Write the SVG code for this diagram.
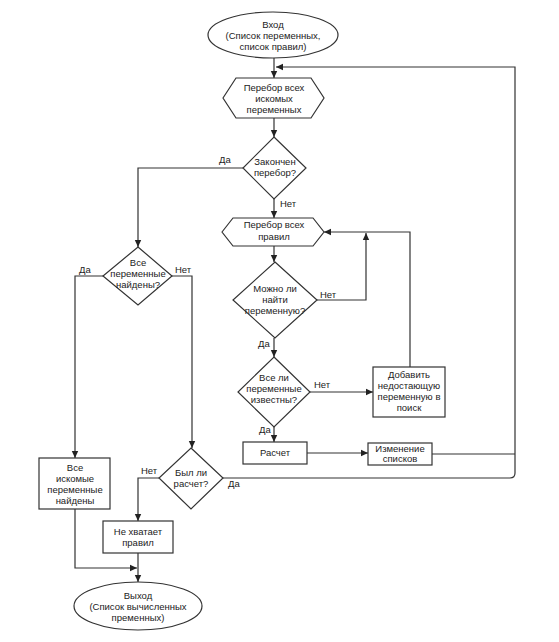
<svg xmlns="http://www.w3.org/2000/svg" width="559" height="642" viewBox="0 0 559 642">
<defs>
<marker id="ah" markerWidth="8" markerHeight="8" refX="7" refY="4" orient="auto" markerUnits="userSpaceOnUse">
<path d="M0,0.8 L7,4 L0,7.2 Z" fill="#222"/>
</marker>
<style>
.s{fill:#fff;stroke:#333;stroke-width:1.2}
.c{fill:none;stroke:#333;stroke-width:1.2}
.a{marker-end:url(#ah)}
text{font-family:"Liberation Sans",Arial,sans-serif;font-size:9.5px;fill:#222;text-anchor:middle}
.l{text-anchor:start}
</style>
</defs>
<rect width="559" height="642" fill="#fff"/>
<g id="connectors">
<path class="c a" d="M274,58 V78"/>
<path class="c a" d="M274,118 V137"/>
<path class="c a" d="M243,168 H138 V247"/>
<path class="c a" d="M274,199 V218"/>
<path class="c a" d="M274,246 V262"/>
<path class="c a" d="M317,300 H366 V233"/>
<path class="c a" d="M274,338 V357"/>
<path class="c a" d="M310,392 H373"/>
<path class="c a" d="M410,367 V232 H324"/>
<path class="c a" d="M274,427 V442"/>
<path class="c a" d="M307,453 H368"/>
<path class="c" d="M432,454 H515"/>
<path class="c a" d="M223,478 H510 Q515,478 515,473 V67 H276"/>
<path class="c a" d="M103,276 H75 V458"/>
<path class="c a" d="M172,276 H192 V448"/>
<path class="c a" d="M159,478 H138 V521"/>
<path class="c a" d="M75,509 V568 H137"/>
<path class="c a" d="M138,553 V582"/>
<text class="l" x="219" y="163">Да</text>
<text class="l" x="280" y="207">Нет</text>
<text class="l" x="320" y="298">Нет</text>
<text class="l" x="258" y="347">Да</text>
<text class="l" x="314" y="388">Нет</text>
<text class="l" x="259" y="433">Да</text>
<text class="l" x="79" y="273">Да</text>
<text class="l" x="175" y="273">Нет</text>
<text class="l" x="141" y="474">Нет</text>
<text class="l" x="228" y="487">Да</text>
</g>
<g id="start">
<ellipse class="s" cx="273" cy="35" rx="65" ry="23"/>
<text x="273" y="28">Вход</text>
<text x="273" y="39">(Список переменных,</text>
<text x="273" y="50">список правил)</text>
</g>
<g id="loopVars">
<polygon class="s" points="223,98 236,78 311,78 324,98 311,118 236,118"/>
<text x="274" y="91">Перебор всех</text>
<text x="274" y="102">искомых</text>
<text x="274" y="113">переменных</text>
</g>
<g id="doneLoop">
<polygon class="s" points="274,137 306,168 274,199 243,168"/>
<text x="275" y="165">Закончен</text>
<text x="275" y="176">перебор?</text>
</g>
<g id="loopRules">
<polygon class="s" points="222,232 233,218 313,218 324,232 313,246 233,246"/>
<text x="274" y="228">Перебор всех</text>
<text x="274" y="240">правил</text>
</g>
<g id="canFind">
<polygon class="s" points="275,262 317,300 275,338 233,300"/>
<text x="275" y="292">Можно ли</text>
<text x="275" y="303">найти</text>
<text x="275" y="314">переменную?</text>
</g>
<g id="allKnown">
<polygon class="s" points="274,357 310,392 274,427 238,392"/>
<text x="274" y="381">Все ли</text>
<text x="274" y="392">переменные</text>
<text x="274" y="403">известны?</text>
</g>
<g id="addMissing">
<rect class="s" x="373" y="367" width="72" height="50"/>
<text x="409" y="378">Добавить</text>
<text x="409" y="389">недостающую</text>
<text x="409" y="400">переменную в</text>
<text x="409" y="411">поиск</text>
</g>
<g id="calc">
<rect class="s" x="243" y="442" width="64" height="22"/>
<text x="275" y="456">Расчет</text>
</g>
<g id="updateLists">
<rect class="s" x="368" y="443" width="64" height="22"/>
<text x="400" y="452">Изменение</text>
<text x="400" y="462">списков</text>
</g>
<g id="allFound">
<polygon class="s" points="138,247 172,276 138,305 103,276"/>
<text x="138" y="266">Все</text>
<text x="138" y="277">переменные</text>
<text x="138" y="288">найдены?</text>
</g>
<g id="foundBox">
<rect class="s" x="39" y="458" width="71" height="51"/>
<text x="75" y="471">Все</text>
<text x="75" y="482">искомые</text>
<text x="75" y="493">переменные</text>
<text x="75" y="504">найдены</text>
</g>
<g id="wasCalc">
<polygon class="s" points="191,448 223,478 191,509 159,478"/>
<text x="191" y="476">Был ли</text>
<text x="191" y="487">расчет?</text>
</g>
<g id="notEnough">
<rect class="s" x="103" y="521" width="70" height="32"/>
<text x="138" y="535">Не хватает</text>
<text x="138" y="546">правил</text>
</g>
<g id="end">
<ellipse class="s" cx="138" cy="606" rx="64" ry="24"/>
<text x="138" y="599">Выход</text>
<text x="138" y="610">(Список вычисленных</text>
<text x="138" y="621">пременных)</text>
</g>
</svg>
